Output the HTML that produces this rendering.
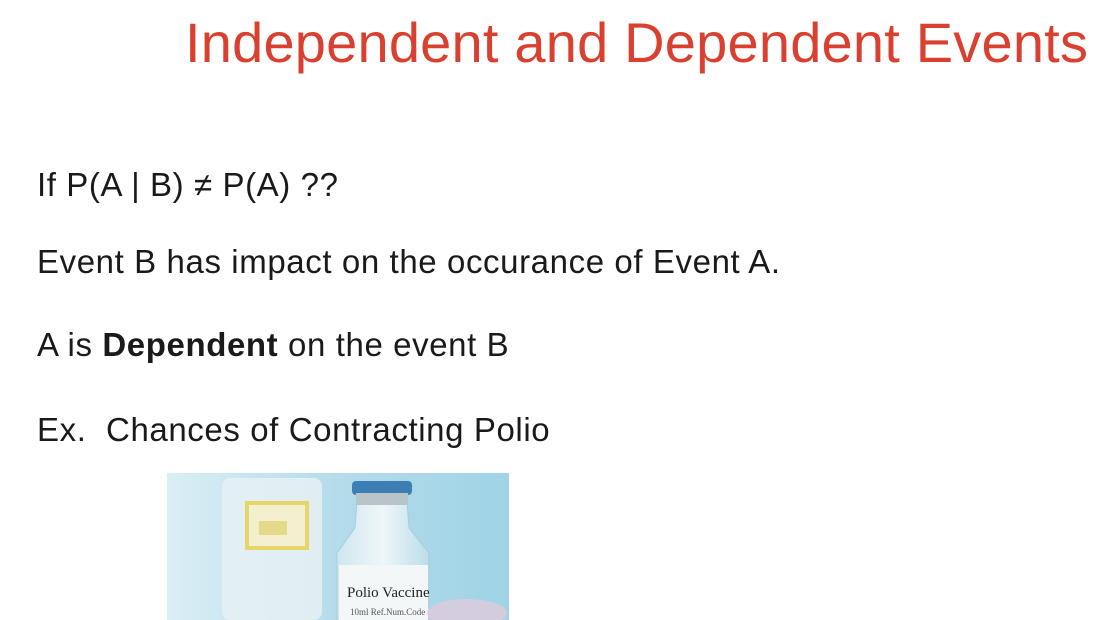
<!DOCTYPE html>
<html><head><meta charset="utf-8"><style>
html,body{margin:0;padding:0;background:#fff;width:1114px;height:620px;overflow:hidden;position:relative;font-family:"Liberation Sans",sans-serif}
.t{position:absolute;white-space:nowrap}
#title{left:185px;top:10px;font-size:56px;color:#d9402f;letter-spacing:0.2px}
.line{font-size:33px;color:#1a1a1a;left:37px;letter-spacing:0.6px}
</style></head><body>
<div class="t" id="title">Independent and Dependent Events</div>
<div class="t line" style="top:166px">If P(A | B) ≠ P(A) ??</div>
<div class="t line" style="top:243px">Event B has impact on the occurance of Event A.</div>
<div class="t line" style="top:326px">A is <b>Dependent</b> on the event B</div>
<div class="t line" style="top:411px">Ex.&nbsp; Chances of Contracting Polio</div>
<svg style="position:absolute;left:167px;top:473px" width="342" height="147" viewBox="0 0 342 147">
<defs>
<linearGradient id="bg" x1="0" x2="1" y1="0" y2="0"><stop offset="0" stop-color="#dbeef5"/><stop offset="0.5" stop-color="#b4dcea"/><stop offset="1" stop-color="#9fd3e6"/></linearGradient>
<linearGradient id="gl" x1="0" x2="1"><stop offset="0" stop-color="#cfe6ee"/><stop offset="0.5" stop-color="#eef7fa"/><stop offset="1" stop-color="#bcdde8"/></linearGradient>
</defs>
<rect width="342" height="147" fill="url(#bg)"/>
<rect x="55" y="5" width="100" height="142" rx="8" fill="#e4f0f3" opacity="0.9"/>
<rect x="80" y="30" width="60" height="45" fill="#f3f0d0" stroke="#e6d66a" stroke-width="4"/>
<rect x="92" y="48" width="28" height="14" fill="#e5d98a"/>
<path d="M190 28 L240 28 L242 55 L262 80 L262 147 L170 147 L170 80 L188 55 Z" fill="url(#gl)" stroke="#a9cdd9"/>
<rect x="185" y="8" width="60" height="14" rx="4" fill="#3d7fb5"/>
<rect x="189" y="20" width="52" height="12" fill="#b8c4c8"/>
<rect x="172" y="92" width="89" height="55" fill="#f4f7f8"/>
<text x="180" y="124" font-family="Liberation Serif,serif" font-size="15" fill="#222">Polio Vaccine</text>
<text x="183" y="142" font-family="Liberation Serif,serif" font-size="9" fill="#555">10ml  Ref.Num.Code</text>
<ellipse cx="300" cy="140" rx="40" ry="14" fill="#e8c9dc" opacity="0.7"/>
</svg>
</body></html>
